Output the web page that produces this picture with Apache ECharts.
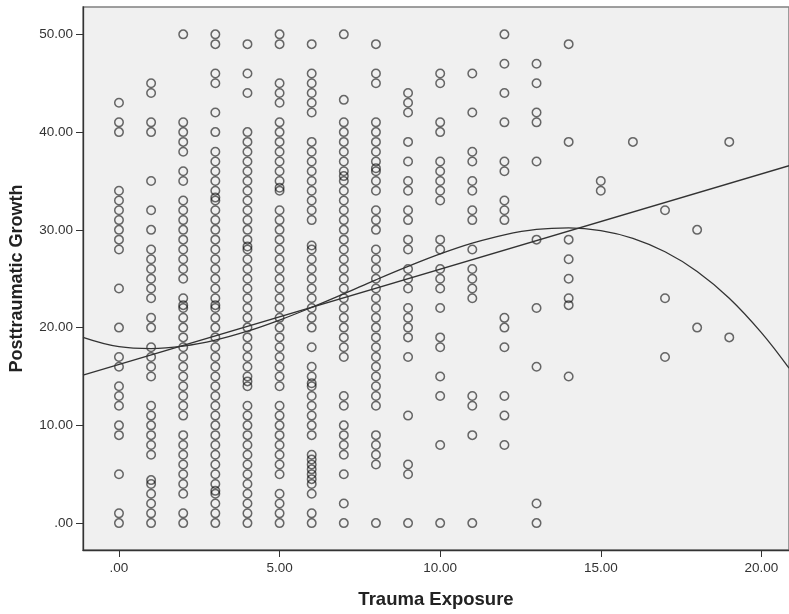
<!DOCTYPE html>
<html>
<head>
<meta charset="utf-8">
<script src="https://cdn.jsdelivr.net/npm/echarts@6/dist/echarts.min.js"></script>
<style>
  html, body { margin: 0; padding: 0; background: #fff; }
  #chart { width: 789px; height: 614px; }
</style>
</head>
<body>
<div id="chart"></div>
<script>
// trauma exposure vs posttraumatic growth, scatter + linear and cubic fit

// x values (columns) and the growth scores seen in each column
var exposure = [0, 1, 2, 3, 4, 5, 6, 7, 8, 9, 10, 11, 12, 13, 14, 15, 16, 17, 18, 19];
var growthByExposure = [
    [43, 41, 40, 34, 33, 32, 31, 30, 29, 28, 24, 20, 17, 16, 14, 13, 12, 10, 9, 5, 1, 0],
    [45, 44, 41, 40, 35, 32, 30, 28, 27, 26, 25, 24, 23, 21, 20, 18, 17, 16, 15, 12, 11, 10, 9, 8, 7, 4.4, 4, 3, 2, 1, 0],
    [50, 41, 40, 39, 38, 36, 35, 33, 32, 31, 30, 29, 28, 27, 26, 25, 23, 22.3, 22, 21, 20, 19, 18, 17, 16, 15, 14, 13, 12, 11, 9, 8, 7, 6, 5, 4, 3, 1, 0],
    [50, 49, 46, 45, 42, 40, 38, 37, 36, 35, 34, 33.3, 33, 32, 31, 30, 29, 28, 27, 26, 25, 24, 23, 22.3, 22, 21, 20, 19, 18, 17, 16, 15, 14, 13, 12, 11, 10, 9, 8, 7, 6, 5, 4, 3.3, 3, 2, 1, 0],
    [49, 46, 44, 40, 39, 38, 37, 36, 35, 34, 33, 32, 31, 30, 29, 28.3, 28, 27, 26, 25, 24, 23, 22, 21, 20, 19, 18, 17, 16, 15, 14.5, 14, 12, 11, 10, 9, 8, 7, 6, 5, 4, 3, 2, 1, 0],
    [50, 49, 45, 44, 43, 41, 40, 39, 38, 37, 36, 35, 34.3, 34, 32, 31, 30, 29, 28, 27, 26, 25, 24, 23, 22, 21, 20, 19, 18, 17, 16, 15, 14, 12, 11, 10, 9, 8, 7, 6, 5, 3, 2, 1, 0],
    [49, 46, 45, 44, 43, 42, 39, 38, 37, 36, 35, 34, 33, 32, 31, 28.4, 28, 27, 26, 25, 24, 23, 22, 21, 20, 18, 16, 15, 14.3, 14, 13, 12, 11, 10, 9, 7, 6.5, 6, 5.5, 5, 4.5, 4, 3, 1, 0],
    [50, 43.3, 41, 40, 39, 38, 37, 36, 35.5, 35, 34, 33, 32, 31, 30, 29, 28, 27, 26, 25, 24, 23, 22, 21, 20, 19, 18, 17, 13, 12, 10, 9, 8, 7, 5, 2, 0],
    [49, 46, 45, 41, 40, 39, 38, 37, 36.3, 36, 35, 34, 32, 31, 30, 28, 27, 26, 25, 24, 23, 22, 21, 20, 19, 18, 17, 16, 15, 14, 13, 12, 9, 8, 7, 6, 0],
    [44, 43, 42, 39, 37, 35, 34, 32, 31, 29, 28, 26, 25, 24, 22, 21, 20, 19, 17, 11, 6, 5, 0],
    [46, 45, 41, 40, 37, 36, 35, 34, 33, 29, 28, 26, 25, 24, 22, 19, 18, 15, 13, 8, 0],
    [46, 42, 38, 37, 35, 34, 32, 31, 28, 26, 25, 24, 23, 13, 12, 9, 0],
    [50, 47, 44, 41, 37, 36, 33, 32, 31, 21, 20, 18, 13, 11, 8],
    [47, 45, 42, 41, 37, 29, 22, 16, 2, 0],
    [49, 39, 29, 27, 25, 23, 22.3, 15],
    [35, 34],
    [39],
    [32, 23, 17],
    [30, 20],
    [39, 19]
];

// fit lines
var linearX = [-1.12, 20.86];
var linearY = [15.13, 36.56];
var cubicX = [-1.12, 0, 1, 2, 3, 4, 5, 6, 7, 8, 9, 10, 11, 12, 13, 14, 15, 16, 17, 18, 19, 20, 20.86];
var cubicY = [19.0, 18.05, 17.86, 18.11, 18.72, 19.63, 20.77, 22.07, 23.46, 24.89, 26.26, 27.54, 28.64, 29.49, 30.04, 30.2, 29.93, 29.14, 27.76, 25.75, 23.01, 19.49, 15.85];

var xTicks = [0, 5, 10, 15, 20];
var yTicks = [0, 10, 20, 30, 40, 50];

function fmt(v) {
    return v === 0 ? '.00' : v.toFixed(2);
}

var points = [];
exposure.forEach(function (x, i) {
    growthByExposure[i].forEach(function (y) {
        points.push([x, y]);
    });
});
var linearLine = linearX.map(function (x, i) { return [x, linearY[i]]; });
var cubicLine = cubicX.map(function (x, i) { return [x, cubicY[i]]; });

var chart = echarts.init(document.getElementById('chart'), null, { renderer: 'canvas' });
var option = {
    animation: false,
    backgroundColor: '#ffffff',
    textStyle: { fontFamily: 'Liberation Sans, Arial, sans-serif' },
    grid: {
        left: 83, top: 7, right: -1, bottom: 61,
        show: true,
        backgroundColor: '#f0f0f0',
        borderColor: '#808080',
        borderWidth: 1.5
    },
    xAxis: {
        type: 'value',
        min: -1.12,
        max: 20.86,
        name: 'Trauma Exposure',
        nameLocation: 'middle',
        nameGap: 40,
        nameTextStyle: { fontSize: 18.5, fontWeight: 'bold', color: '#222' },
        axisLine: { show: true, onZero: false, lineStyle: { color: '#333', width: 1.3 } },
        axisTick: { show: true, length: 7, lineStyle: { color: '#333' }, customValues: xTicks },
        axisLabel: { fontSize: 13.5, color: '#333', margin: 11, formatter: fmt, customValues: xTicks },
        splitLine: { show: false }
    },
    yAxis: {
        type: 'value',
        min: -2.75,
        max: 52.8,
        name: 'Posttraumatic Growth',
        nameLocation: 'middle',
        nameGap: 57,
        nameTextStyle: { fontSize: 18, fontWeight: 'bold', color: '#222' },
        axisLine: { show: true, onZero: false, lineStyle: { color: '#333', width: 1.3 } },
        axisTick: { show: true, length: 7, lineStyle: { color: '#333' }, customValues: yTicks },
        axisLabel: { fontSize: 13.5, color: '#333', margin: 10, formatter: fmt, customValues: yTicks },
        splitLine: { show: false }
    },
    series: [
        {
            type: 'scatter',
            data: points,
            symbol: 'circle',
            symbolSize: 8.5,
            itemStyle: {
                color: 'rgba(0,0,0,0)',
                borderColor: 'rgba(10,10,10,0.75)',
                borderWidth: 1.5
            },
            z: 2
        },
        {
            type: 'line',
            data: linearLine,
            showSymbol: false,
            lineStyle: { color: '#333', width: 1.3 },
            silent: true,
            z: 3
        },
        {
            type: 'line',
            data: cubicLine,
            showSymbol: false,
            smooth: 0.4,
            lineStyle: { color: '#333', width: 1.3 },
            silent: true,
            z: 3
        }
    ]
};
chart.setOption(option);
</script>
</body>
</html>
